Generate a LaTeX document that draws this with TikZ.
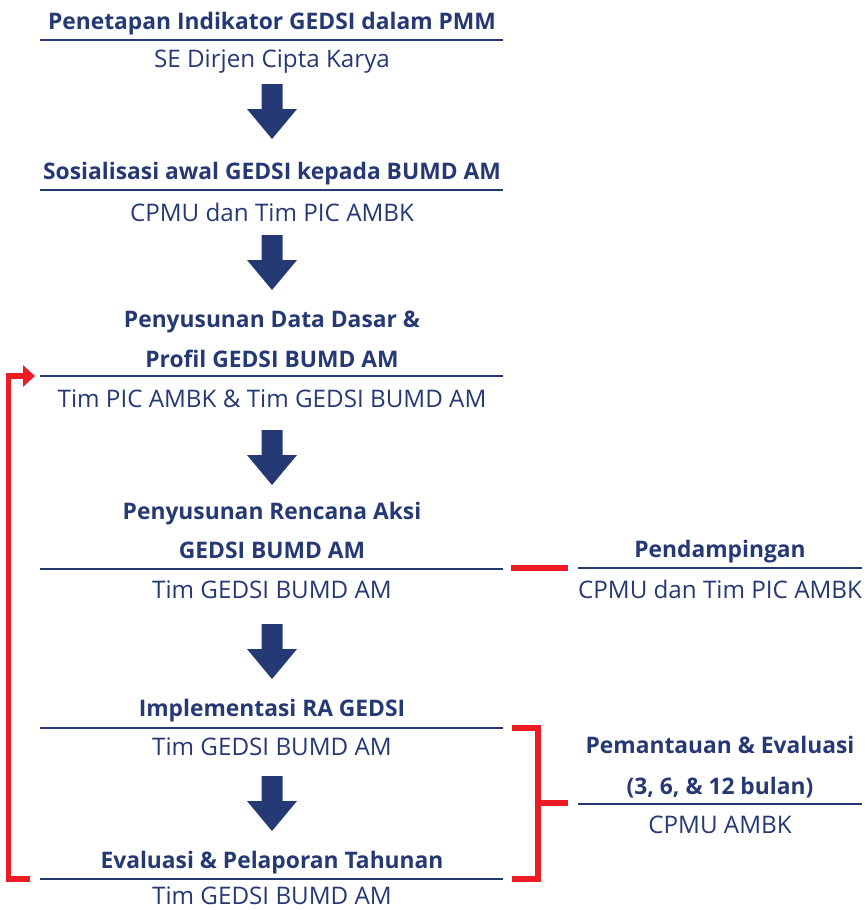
\documentclass[tikz,border=0pt]{standalone}
\usepackage{fontspec}
\setmainfont{Open Sans}
\usetikzlibrary{arrows.meta}
\definecolor{navy}{RGB}{37,57,116}
\definecolor{brred}{RGB}{237,28,36}
\newcommand{\blkarrow}[1]{%
  \fill[navy] (261.5,#1) -- (282.5,#1) -- (282.5,#1+25) -- (297,#1+25) -- (272,#1+55)
    -- (247,#1+25) -- (261.5,#1+25) -- cycle;}
\begin{document}
\begin{tikzpicture}[x=1pt,y=-1pt,
  ttl/.style={anchor=base,inner sep=0pt,text=navy,font=\fontsize{22.8}{28}\selectfont\bfseries},
  sub/.style={anchor=base,inner sep=0pt,text=navy,font=\fontsize{24.2}{28}\selectfont},
  rule/.style={draw=navy,line width=1.4pt},
  redl/.style={draw=brred,line width=5.5pt}]
\useasboundingbox (0,0) rectangle (867,910);
% block 1
\node[ttl] (t1) at (272,29) {Penetapan Indikator GEDSI dalam PMM};
\draw[rule] (40,40) -- (503,40);
\node[sub] (s1) at (272,67) {SE Dirjen Cipta Karya};
\blkarrow{84}
% block 2
\node[ttl] (t2) at (272,179) {Sosialisasi awal GEDSI kepada BUMD AM};
\draw[rule] (40,190) -- (503,190);
\node[sub] (s2) at (272,221) {CPMU dan Tim PIC AMBK};
\blkarrow{235}
% block 3
\node[ttl] (t3a) at (272,327) {Penyusunan Data Dasar \&};
\node[ttl] (t3b) at (272,367) {Profil GEDSI BUMD AM};
\draw[rule] (40,376) -- (503,376);
\node[sub] (s3) at (272,407) {Tim PIC AMBK \& Tim GEDSI BUMD AM};
\blkarrow{430}
% block 4
\node[ttl] (t4a) at (272,519) {Penyusunan Rencana Aksi};
\node[ttl] (t4b) at (272,558) {GEDSI BUMD AM};
\draw[rule] (40,569) -- (503,569);
\node[sub] (s4) at (272,598) {Tim GEDSI BUMD AM};
\blkarrow{624}
% block 5
\node[ttl] (t5) at (272,716) {Implementasi RA GEDSI};
\draw[rule] (40,728) -- (503,728);
\node[sub] (s5) at (272,755) {Tim GEDSI BUMD AM};
\blkarrow{776}
% block 6
\node[ttl] (t6) at (272,868) {Evaluasi \& Pelaporan Tahunan};
\draw[rule] (40,879) -- (503,879);
\node[sub] (s6) at (272,904) {Tim GEDSI BUMD AM};
% right: Pendampingan
\node[ttl] (p1) at (720,557) {Pendampingan};
\draw[rule] (578,568) -- (862,568);
\node[sub] (p2) at (720,598) {CPMU dan Tim PIC AMBK};
% right: Pemantauan
\node[ttl] (q1) at (720,753) {Pemantauan \& Evaluasi};
\node[ttl] (q2) at (720,794) {(3, 6, \& 12 bulan)};
\draw[rule] (578,804) -- (862,804);
\node[sub] (q3) at (720,833) {CPMU AMBK};
% red connectors
\coordinate (ra) at (511,568);
\coordinate (rb) at (568,568);
\draw[redl] (ra) -- (rb);
\coordinate (b1) at (512,728);
\coordinate (b2) at (538,728);
\coordinate (b3) at (538,879);
\coordinate (b4) at (512,879);
\coordinate (bm) at (538,803);
\coordinate (be) at (568,803);
\draw[redl,miter limit=10] (b1) -- (b2) -- (b3) -- (b4);
\draw[redl] (bm) -- (be);
\coordinate (l1) at (30,879);
\coordinate (l2) at (8.5,879);
\coordinate (l3) at (8.5,376);
\coordinate (l4) at (35,376);
\draw[redl,-{Triangle[length=12pt,width=21pt]}] (l1) -- (l2) -- (l3) -- (l4);
\end{tikzpicture}
\end{document}
